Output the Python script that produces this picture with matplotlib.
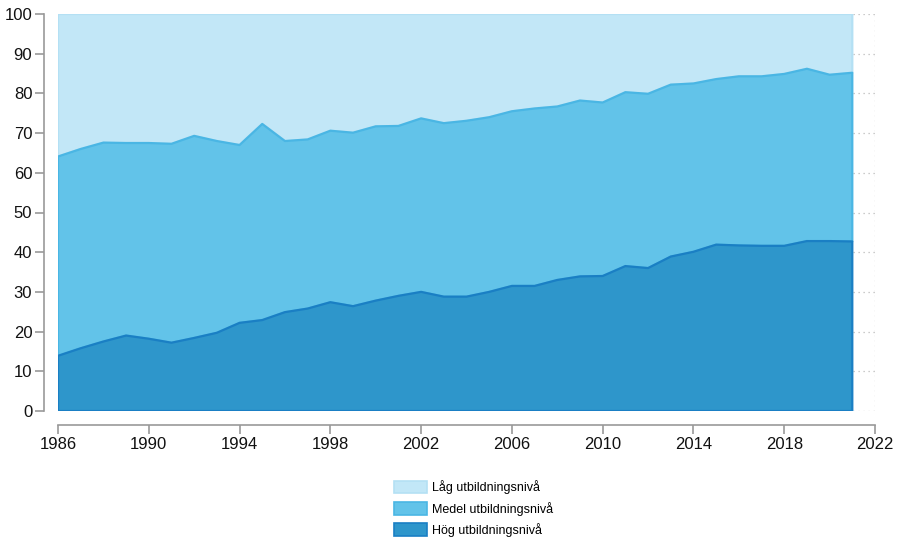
import numpy as np
import matplotlib.pyplot as plt
from matplotlib.patches import Patch

plt.rcParams['font.family'] = ['Liberation Sans', 'DejaVu Sans']

years = list(range(1986, 2022))

# shares in percent, bottom to top
hog = [13.9, 15.8, 17.5, 19.0, 18.2, 17.2, 18.4, 19.7, 22.2, 22.9, 24.9, 25.8,
       27.4, 26.4, 27.8, 29.0, 30.0, 28.8, 28.8, 30.0, 31.5, 31.5, 33.0, 33.9,
       34.0, 36.5, 36.0, 38.9, 40.1, 41.9, 41.7, 41.6, 41.6, 42.8, 42.8, 42.7]
medel = [50.2, 50.2, 50.1, 48.5, 49.3, 50.1, 50.9, 48.3, 44.8, 49.4, 43.1, 42.6,
         43.2, 43.7, 43.9, 42.8, 43.7, 43.7, 44.3, 44.0, 44.0, 44.7, 43.7, 44.3,
         43.7, 43.8, 43.9, 43.3, 42.4, 41.7, 42.6, 42.7, 43.3, 43.4, 41.9, 42.5]
lag = [35.9, 34.0, 32.4, 32.5, 32.5, 32.7, 30.7, 32.0, 33.0, 27.7, 32.0, 31.6,
       29.4, 29.9, 28.3, 28.2, 26.3, 27.5, 26.9, 26.0, 24.5, 23.8, 23.3, 21.8,
       22.3, 19.7, 20.1, 17.8, 17.5, 16.4, 15.7, 15.7, 15.1, 13.8, 15.3, 14.8]

labels = ['Hög utbildningsnivå', 'Medel utbildningsnivå', 'Låg utbildningsnivå']
fills = ['#2e96cb', '#62c3e9', '#c2e7f7']
edges = ['#1a7fc4', '#4ab6e4', '#b4e0f4']

x = np.array(years)
series = [np.array(hog), np.array(medel), np.array(lag)]

fig = plt.figure(figsize=(9.02, 5.38), dpi=100)
ax = fig.add_axes([58/902, 1-411/538, (875-58)/902, (411-14)/538])

# stack bottoms/tops, draw upper layers first so lower outlines stay visible
bottoms = []
base = np.zeros(len(x))
for s in series:
    bottoms.append(base)
    base = base + s
for i in [2, 1, 0]:
    top = bottoms[i] + series[i]
    poly_x = np.concatenate([x, x[::-1]])
    poly_y = np.concatenate([top, bottoms[i][::-1]])
    ax.fill(poly_x, poly_y, facecolor=fills[i], edgecolor=edges[i], linewidth=1.6,
            joinstyle='round', zorder=2)

ax.set_xlim(1986, 2022)
ax.set_ylim(0, 100)
ax.set_xticks(range(1986, 2023, 4))
ax.set_yticks(range(0, 101, 10))

ax.grid(True, linestyle=(0, (1, 3)), color='#bbbbbb', linewidth=0.9)
ax.set_axisbelow(True)
for gl in ax.get_xgridlines() + ax.get_ygridlines():
    gl.set_clip_on(False)

for side in ['top', 'right']:
    ax.spines[side].set_visible(False)
for side in ['left', 'bottom']:
    ax.spines[side].set_position(('outward', 10))
    ax.spines[side].set_color('#999999')
    ax.spines[side].set_linewidth(1.2)
ax.tick_params(axis='both', colors='#999999', length=6.5, width=1.2,
               labelsize=12, labelcolor='#111111', pad=2)

handles = [Patch(facecolor=fills[i], edgecolor=edges[i], linewidth=1.2, label=labels[i])
           for i in [2, 1, 0]]
fig.legend(handles=handles, loc='upper left', bbox_to_anchor=(388/902, 1-474/538),
           frameon=False, fontsize=9, handlelength=2.6, handleheight=1.2,
           handletextpad=0.45, labelspacing=0.6, borderpad=0)

plt.savefig('out.png', dpi=100)
